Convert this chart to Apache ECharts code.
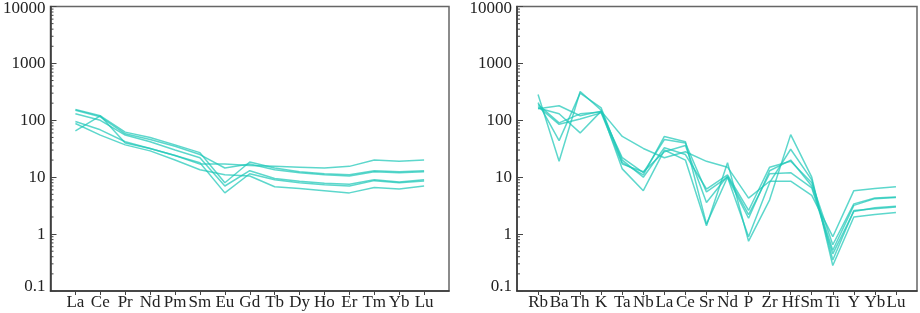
<!DOCTYPE html>
<html>
<head>
<meta charset="utf-8">
<script src="https://cdn.jsdelivr.net/npm/echarts@6/dist/echarts.min.js"></script>
<style>
  html, body { margin: 0; padding: 0; background: #fff; }
  #chart { width: 920px; height: 313px; }
</style>
</head>
<body>
<div id="chart"></div>
<script>
// REE pattern (left panel)
var reeCats = ["La", "Ce", "Pr", "Nd", "Pm", "Sm", "Eu", "Gd", "Tb", "Dy", "Ho", "Er", "Tm", "Yb", "Lu"];
var reeA = [155, 120, 62, 50, 37, 27, 8, 18.5, 14.5, 12.5, 11.5, 11, 13, 12.5, 13];
var reeB = [150, 115, 58, 46, 35, 25, 14.5, 17, 13.5, 12, 11, 10.5, 12.5, 12, 12.5];
var reeC = [130, 100, 55, 42, 30, 22, 7, 13, 9.5, 8.5, 7.8, 7.5, 9, 8.2, 9];
var reeD = [95, 68, 42, 32, 24, 18, 5.3, 11.5, 9, 8, 7.4, 7, 8.7, 8, 8.6];
var reeE = [65, 120, 40, 32, 24, 17, 17, 16, 15.5, 15, 14.5, 15.5, 20, 19, 20];
var reeF = [88, 55, 37, 29, 20, 13.5, 11, 10.5, 6.8, 6.3, 5.8, 5.3, 6.6, 6.2, 7];

// trace element pattern (right panel)
var traceCats = ["Rb", "Ba", "Th", "K", "Ta", "Nb", "La", "Ce", "Sr", "Nd", "P", "Zr", "Hf", "Sm", "Ti", "Y", "Yb", "Lu"];
var trace1 = [160, 180, 120, 145, 52, 32, 22, 28, 19, 15, 4.3, 8.5, 8.5, 4.8, 0.9, 5.8, 6.3, 6.8];
var trace2 = [285, 19, 320, 150, 14, 5.8, 30, 20, 1.4, 18, 0.75, 4, 56, 10, 0.28, 2.0, 2.2, 2.4];
var trace3 = [205, 44, 300, 165, 18, 11, 52, 42, 1.5, 10, 0.9, 8, 31, 9, 0.35, 2.6, 2.8, 3.0];
var trace4 = [190, 90, 130, 140, 22, 12, 46, 40, 5.5, 10, 1.9, 13, 20, 7, 0.52, 3.2, 4.2, 4.4];
var trace5 = [165, 130, 60, 145, 20, 10, 33, 25, 6.2, 11, 2.6, 15, 19, 8, 0.65, 3.4, 4.3, 4.5];
var trace6 = [175, 85, 105, 135, 17, 12.5, 28, 36, 3.6, 10.5, 2.2, 11.5, 12, 6.5, 0.45, 2.5, 2.9, 3.1];

var yTickLabels = ["0.1", "1", "10", "100", "1000", "10000"];

var reeSeries = [reeA, reeB, reeC, reeD, reeE, reeF];
var traceSeries = [trace1, trace2, trace3, trace4, trace5, trace6];

var lineColor = "rgba(30, 200, 184, 0.72)";
var fontFamily = "'Liberation Serif', 'Times New Roman', serif";

// log minor ticks 2..9 in each decade
var minorTicks = [];
[0.1, 1, 10, 100, 1000].forEach(function (d) {
  for (var k = 2; k <= 9; k++) minorTicks.push(+(d * k).toPrecision(3));
});

function padCats(cats) {
  return [""].concat(cats, [""]);
}
function notEmpty(index, value) {
  return value !== "";
}

function makeX(cats, gi) {
  return {
    type: "category",
    gridIndex: gi,
    data: padCats(cats),
    boundaryGap: false,
    axisLine: { lineStyle: { color: "#333", width: 1.5 } },
    axisTick: { interval: notEmpty, length: 4, lineStyle: { color: "#444" } },
    axisLabel: {
      interval: notEmpty,
      margin: 3,
      color: "#222",
      fontFamily: fontFamily,
      fontSize: 17
    },
    splitLine: { show: false }
  };
}

function makeY(gi) {
  return {
    type: "log",
    logBase: 10,
    gridIndex: gi,
    min: 0.1,
    max: 10000,
    axisLine: { show: true, lineStyle: { color: "#333", width: 1.5 } },
    axisTick: { show: true, inside: true, length: 6, lineStyle: { color: "#444" } },
    axisLabel: {
      margin: 5,
      color: "#222",
      fontFamily: fontFamily,
      fontSize: 17,
      formatter: function (v) {
        var i = Math.round(Math.log10(v)) + 1;
        var t = yTickLabels[i];
        if (i === 0) return "{lo|" + t + "}";
        if (i === 5) return "{hi|" + t + "}";
        return t;
      },
      rich: {
        lo: { padding: [0, 0, 9, 0], fontFamily: fontFamily, fontSize: 17, color: "#222" },
        hi: { padding: [4, 0, 0, 0], fontFamily: fontFamily, fontSize: 17, color: "#222" }
      }
    },
    splitLine: { show: false }
  };
}

function minorTickSeries(gi) {
  return {
    type: "custom",
    xAxisIndex: gi,
    yAxisIndex: gi,
    silent: true,
    z: 5,
    data: minorTicks.map(function (v) { return [0, v]; }),
    encode: { x: 0, y: 1 },
    renderItem: function (params, api) {
      var y = api.coord([0, api.value(1)])[1];
      var x0 = params.coordSys.x;
      return {
        type: "line",
        shape: { x1: x0, y1: y, x2: x0 + 3, y2: y },
        style: { stroke: "#444", lineWidth: 1 }
      };
    }
  };
}

function lineSeries(values, gi) {
  return {
    type: "line",
    xAxisIndex: gi,
    yAxisIndex: gi,
    showSymbol: false,
    symbol: "none",
    lineStyle: { color: lineColor, width: 1.5 },
    data: values.map(function (v, i) { return [i + 1, v]; })
  };
}

var series = [];
reeSeries.forEach(function (s) { series.push(lineSeries(s, 0)); });
traceSeries.forEach(function (s) { series.push(lineSeries(s, 1)); });
series.push(minorTickSeries(0));
series.push(minorTickSeries(1));

var myChart = echarts.init(document.getElementById("chart"));
var option = {
  animation: false,
  backgroundColor: "#fff",
  grid: [
    { left: 49, top: 5, width: 400, height: 286, show: true, borderColor: "#666", borderWidth: 1.5 },
    { left: 517, top: 5, width: 400, height: 286, show: true, borderColor: "#666", borderWidth: 1.5 }
  ],
  xAxis: [makeX(reeCats, 0), makeX(traceCats, 1)],
  yAxis: [makeY(0), makeY(1)],
  series: series
};
option && myChart.setOption(option);
</script>
</body>
</html>
